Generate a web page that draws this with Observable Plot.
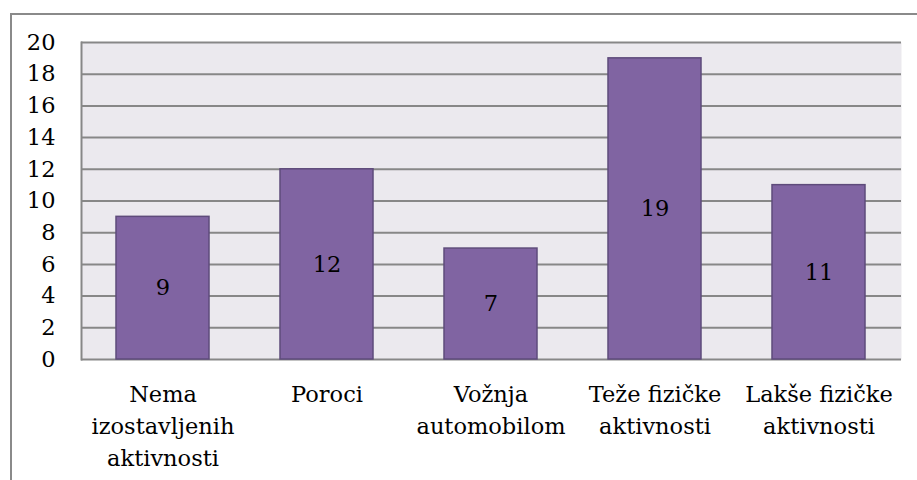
<!DOCTYPE html>
<html><head><meta charset="utf-8">
<script src="https://cdn.jsdelivr.net/npm/d3@7"></script>
<script src="https://cdn.jsdelivr.net/npm/@observablehq/plot@0.6"></script>
<style>
html,body{margin:0;padding:0;background:#fff;overflow:hidden}
#wrap{position:relative;width:917px;height:480px;overflow:hidden}
#border{position:absolute;left:10px;top:13px;width:940px;height:500px;border:2px solid #8a8a8a;box-sizing:border-box}
#chart{position:absolute;left:0;top:0}
</style></head><body>
<div id="wrap"><div id="border"></div><div id="chart"></div></div>
<script>
const categories = ["Nema\nizostavljenih\naktivnosti", "Poroci", "Vožnja\nautomobilom", "Teže fizičke\naktivnosti", "Lakše fizičke\naktivnosti"];
const values = [9, 12, 7, 19, 11];
const yTicks = [0, 2, 4, 6, 8, 10, 12, 14, 16, 18, 20];

const data = categories.map((c, i) => ({category: c, value: values[i]}));

const chart = Plot.plot({
  width: 917,
  height: 480,
  marginLeft: 81,
  marginRight: 16,
  marginTop: 42,
  marginBottom: 121,
  style: {fontFamily: "DejaVu Serif", fontSize: "22.5px", color: "#000", background: "transparent"},
  x: {domain: categories, paddingInner: 0.43, paddingOuter: 0.215, label: null},
  y: {domain: [0, 20], label: null},
  marks: [
    Plot.frame({fill: "#EBE9EE", stroke: null}),
    Plot.gridY(yTicks, {stroke: "#878787", strokeOpacity: 1, strokeWidth: 2}),
    Plot.frame({anchor: "left", stroke: "#878787", strokeWidth: 2}),
    Plot.barY(data, {x: "category", y: "value", fill: "#8064A2", stroke: "#5E4B7B", strokeWidth: 1.5}),
    Plot.text(data, {x: "category", y: d => d.value / 2, text: d => String(d.value), fontSize: 22.5, fill: "#000"}),
    Plot.axisY(yTicks, {tickSize: 0, tickPadding: 26, fontSize: 22.5, tickFormat: d => String(d)}),
    Plot.axisX({tickSize: 0, tickPadding: 19, fontSize: 22.5, lineHeight: 1.44})
  ]
});
document.getElementById("chart").appendChild(chart);
</script>
</body></html>
